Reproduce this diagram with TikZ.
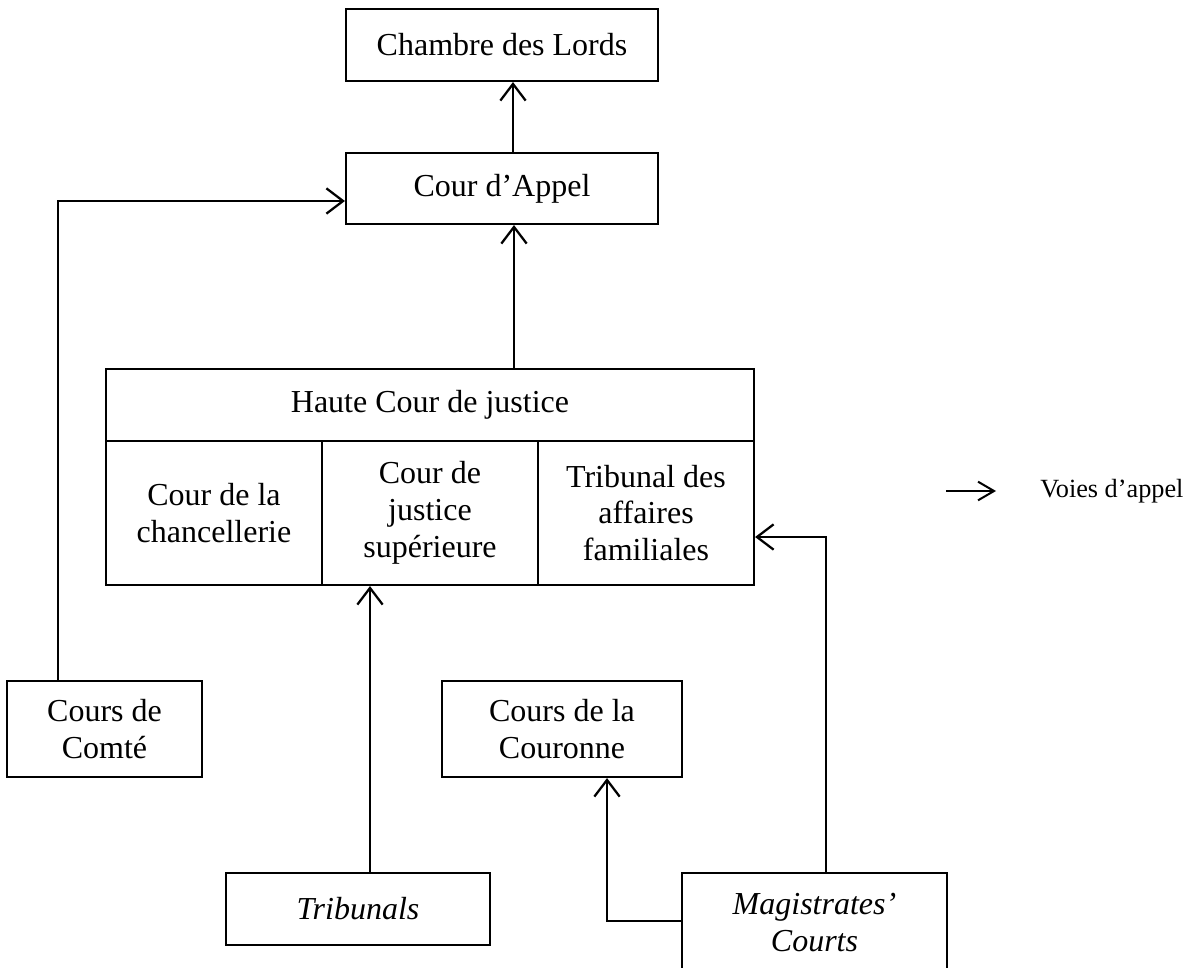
\documentclass[tikz,border=0pt]{standalone}
\usepackage{fontspec}
\setmainfont{Liberation Serif}
\usetikzlibrary{arrows.meta}
\begin{document}
\begin{tikzpicture}[x=0.75pt,y=-0.75pt,
  box/.style={draw,line width=1.6pt,rectangle,inner sep=0pt,align=center,
    font=\fontsize{24}{27.6}\selectfont},
  link/.style={line width=1.7pt,-{Straight Barb[length=12.5pt,width=19pt,line width=1.7pt]}},
  legendlink/.style={line width=1.5pt,-{Straight Barb[length=12pt,width=14pt,line width=1.5pt]}},
]
\clip (0,0) rectangle (1201,967);
\fill[white] (0,0) rectangle (1201,967);

% boxes
\node[box,minimum width=234pt,minimum height=54pt] (lords) at (502,45) {Chambre des Lords};
\node[box,minimum width=234pt,minimum height=53.25pt] (appel) at (502,188.5) {Cour d’Appel};

\node[box,minimum width=486pt,minimum height=54pt] (haute) at (430,405) {Haute Cour de justice};
\node[box,minimum width=162pt,minimum height=108pt] (chanc) at (214,513) {Cour de la\\chancellerie};
\node[box,minimum width=162pt,minimum height=108pt] (sup) at (430,513) {Cour de\\justice\\supérieure};
\node[box,minimum width=162pt,minimum height=108pt] (famil) at (646,513) {Tribunal des\\affaires\\familiales};

\node[box,minimum width=146.25pt,minimum height=72pt] (comte) at (104.5,729) {Cours de\\Comté};
\node[box,minimum width=180pt,minimum height=72pt] (couronne) at (562,729) {Cours de la\\Couronne};
\node[box,minimum width=198pt,minimum height=54pt] (tribunals) at (358,909) {\itshape Tribunals};
\node[box,minimum width=198.75pt,minimum height=74.25pt] (mag) at (814.5,922.5) {\itshape Magistrates’\\\itshape Courts};

% connectors
\draw[link] ([xshift=8.25pt]appel.north) -- ([xshift=8.25pt]lords.south);
\draw[link] ([xshift=63pt]haute.north) -- ([xshift=9pt]appel.south);
\draw[link] ([xshift=-34.875pt]comte.north) |- ([yshift=-9.375pt]appel.west);
\draw[link] ([xshift=9pt]tribunals.north) -- ([xshift=-45pt]sup.south);
\draw[link] ([yshift=1.125pt]mag.west) -| ([xshift=33.75pt]couronne.south);
\draw[link] ([xshift=8.625pt]mag.north) |- ([yshift=-18pt]famil.east);

% legend
\coordinate (la) at (946,491);
\coordinate (lb) at (996,491);
\draw[legendlink] (la) -- (lb);
\node[anchor=west,inner sep=0pt,font=\fontsize{19.7}{23}\selectfont] (legtxt) at (1040,491) {Voies d’appel};
\end{tikzpicture}
\end{document}
